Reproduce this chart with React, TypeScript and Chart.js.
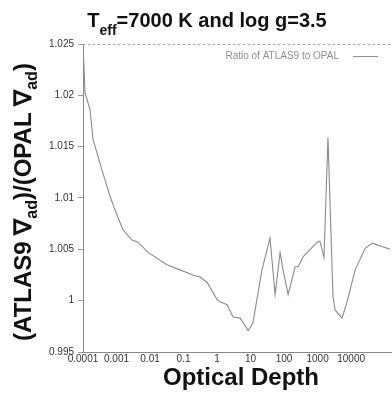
import { useEffect, useRef } from "react";
import { Chart, registerables } from "chart.js";

Chart.register(...registerables);

// Optical depth grid and the ATLAS9 / OPAL ratio of the adiabatic gradient
const opticalDepth = [
  1.0e-4, 1.15e-4, 1.62e-4, 2.0e-4, 3.7e-4, 6.5e-4, 9.1e-4, 1.55e-3, 2.9e-3, 4.4e-3,
  8.7e-3, 0.032, 0.079, 0.19, 0.31, 0.5, 1.0, 1.23, 2.0, 3.0,
  4.9, 8.5, 11.7, 21.9, 38, 54, 76, 93, 132, 214,
  263, 372, 977, 1175, 1550, 2040, 2880, 3310, 5370, 7590,
  13200, 26300, 42700, 145000,
];
const ratio = [
  1.025, 1.0202, 1.0186, 1.0157, 1.0127, 1.0101, 1.0088, 1.0069, 1.0059, 1.0057,
  1.0047, 1.0035, 1.003, 1.0025, 1.0023, 1.0018, 1.0001, 0.9999, 0.9996, 0.9984,
  0.9983, 0.9971, 0.9978, 1.003, 1.0061, 1.0006, 1.0047, 1.003, 1.0006, 1.0033,
  1.0033, 1.0043, 1.0057, 1.0058, 1.0042, 1.0159, 1.0004, 0.9991, 0.9983, 0.9999,
  1.003, 1.0051, 1.0056, 1.005,
];

const xTickValues = [1e-4, 1e-3, 0.01, 0.1, 1, 10, 100, 1000, 10000];
const xTickLabels = ["0.0001", "0.001", "0.01", "0.1", "1", "10", "100", "1000", "10000"];
const yTickValues = [0.995, 1, 1.005, 1.01, 1.015, 1.02, 1.025];

const seriesLabel = "Ratio of ATLAS9 to OPAL";
const xAxisTitle = "Optical Depth";

const FONT = '"Liberation Sans", Arial, Helvetica, sans-serif';

type Part = { text: string; size: number; dy?: number };

function drawRich(ctx: CanvasRenderingContext2D, parts: Part[], cx: number, baseline: number) {
  let total = 0;
  for (const p of parts) {
    ctx.font = `bold ${p.size}px ${FONT}`;
    total += ctx.measureText(p.text).width;
  }
  let x = cx - total / 2;
  ctx.textAlign = "left";
  ctx.textBaseline = "alphabetic";
  for (const p of parts) {
    ctx.font = `bold ${p.size}px ${FONT}`;
    ctx.fillText(p.text, x, baseline + (p.dy || 0));
    x += ctx.measureText(p.text).width;
  }
}

const titleParts: Part[] = [
  { text: "T", size: 20 },
  { text: "eff", size: 14, dy: 8 },
  { text: "=7000 K and log g=3.5", size: 20 },
];

const yTitleParts: Part[] = [
  { text: "(ATLAS9 \u2207", size: 24 },
  { text: "ad", size: 16, dy: 6 },
  { text: ")/(OPAL \u2207", size: 24 },
  { text: "ad", size: 16, dy: 6 },
  { text: ")", size: 24 },
];

const decorations = {
  id: "decorations",
  afterDraw(chart: any) {
    const { ctx, chartArea } = chart;
    ctx.save();

    // dotted upper frame
    ctx.strokeStyle = "#a0a0a0";
    ctx.lineWidth = 1;
    ctx.setLineDash([2, 3]);
    ctx.beginPath();
    ctx.moveTo(chartArea.left, chartArea.top + 0.5);
    ctx.lineTo(chartArea.right, chartArea.top + 0.5);
    ctx.stroke();
    ctx.setLineDash([]);

    // legend entry: text followed by a line sample
    const ly = chartArea.top + 12;
    const lineEnd = chartArea.right - 13;
    const lineStart = lineEnd - 25;
    ctx.font = `10px ${FONT}`;
    ctx.fillStyle = "#8f8f8f";
    ctx.textAlign = "right";
    ctx.textBaseline = "middle";
    ctx.fillText(seriesLabel, lineStart - 14, ly);
    ctx.strokeStyle = "#8f8f8f";
    ctx.beginPath();
    ctx.moveTo(lineStart, ly + 0.5);
    ctx.lineTo(lineEnd, ly + 0.5);
    ctx.stroke();

    // titles
    ctx.fillStyle = "#111";
    drawRich(ctx, titleParts, 207, 27);
    drawRich(ctx, [{ text: xAxisTitle, size: 24 }], 241, 385);

    ctx.translate(31, 202);
    ctx.rotate(-Math.PI / 2);
    drawRich(ctx, yTitleParts, 0, 0);

    ctx.restore();
  },
};

export default function App() {
  const canvasRef = useRef<HTMLCanvasElement | null>(null);

  useEffect(() => {
    if (!canvasRef.current) return;
    const chart = new Chart(canvasRef.current, {
      type: "line",
      data: {
        datasets: [
          {
            label: seriesLabel,
            data: opticalDepth.map((t, i) => ({ x: t, y: ratio[i] })),
            borderColor: "#8a8a8a",
            borderWidth: 1.1,
            pointRadius: 0,
            tension: 0,
            fill: false,
          },
        ],
      },
      options: {
        animation: false,
        responsive: true,
        maintainAspectRatio: false,
        layout: { padding: { left: 0, top: 44, right: 1, bottom: 0 } },
        plugins: {
          legend: { display: false },
          title: { display: false },
          tooltip: { enabled: false },
        },
        scales: {
          x: {
            type: "logarithmic",
            min: 1e-4,
            max: 1.55e5,
            afterBuildTicks: (scale: any) => {
              scale.ticks = xTickValues.map((v) => ({ value: v }));
            },
            afterFit: (scale: any) => {
              scale.height = 46;
            },
            ticks: {
              autoSkip: false,
              maxRotation: 0,
              padding: 1,
              color: "#333",
              font: { size: 10, family: FONT },
              callback: (value: any) => {
                const i = xTickValues.findIndex((v) => Math.abs(Math.log10(v) - Math.log10(Number(value))) < 1e-6);
                return i >= 0 ? xTickLabels[i] : "";
              },
            },
            grid: { display: true, drawOnChartArea: false, drawTicks: false },
            border: { display: true, color: "#8a8a8a", width: 1, dash: [2, 3] },
          },
          y: {
            type: "linear",
            min: 0.995,
            max: 1.025,
            afterBuildTicks: (scale: any) => {
              scale.ticks = yTickValues.map((v) => ({ value: v }));
            },
            afterFit: (scale: any) => {
              scale.width = 83;
            },
            ticks: {
              padding: 4,
              color: "#333",
              font: { size: 10, family: FONT },
              callback: (value: any) => String(Number(Number(value).toFixed(3))),
            },
            grid: {
              display: true,
              drawOnChartArea: false,
              drawTicks: true,
              tickLength: 5,
              color: "#9a9a9a",
            },
            border: { display: true, color: "#8a8a8a", width: 1 },
          },
        },
      },
      plugins: [decorations],
    });
    return () => chart.destroy();
  }, []);

  return (
    <div style={{ position: "fixed", left: 0, top: 0, width: 392, height: 398, background: "#fff" }}>
      <canvas ref={canvasRef} />
    </div>
  );
}
